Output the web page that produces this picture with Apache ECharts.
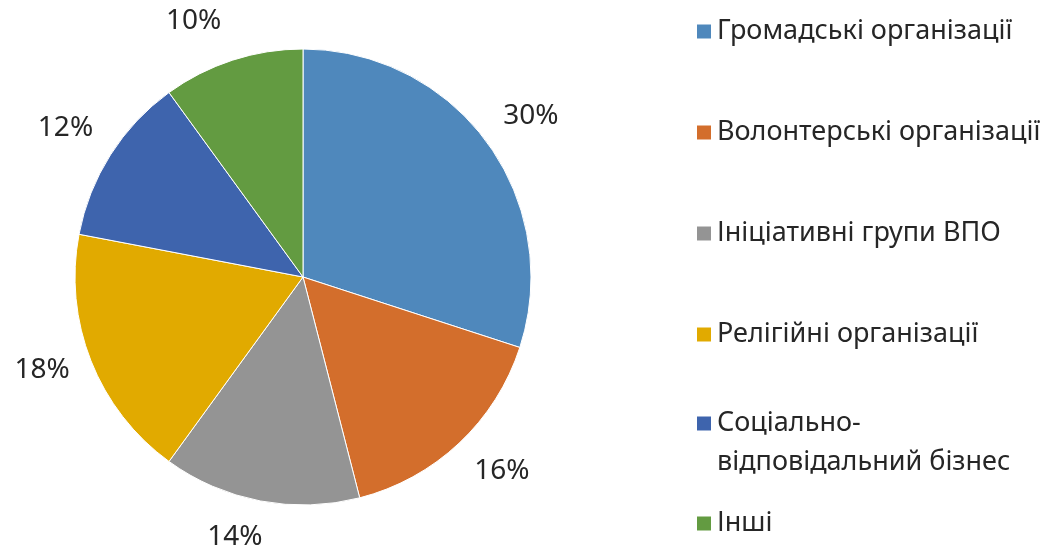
<!DOCTYPE html>
<html>
<head>
<meta charset="utf-8">
<script src="https://cdn.jsdelivr.net/npm/echarts@6/dist/echarts.min.js"></script>
<style>
  html, body { margin: 0; padding: 0; background: #fff; }
  #chart { width: 1054px; height: 548px; }
</style>
</head>
<body>
<div id="chart"></div>
<script>
const categories = [
  'Громадські організації',
  'Волонтерські організації',
  'Ініціативні групи ВПО',
  'Релігійні організації',
  'Соціально-відповідальний бізнес',
  'Інші'
]
const shares = [30, 16, 14, 18, 12, 10]
const colors = ['#4f88bc', '#d36e2c', '#949494', '#e1aa00', '#3e64ad', '#639b41']

const fontFamily = '"Noto Sans", sans-serif'
const textColor = '#262626'
const center = [303, 277]
// small best-fit style nudges for the percentage labels, like Excel does
const labelOffsets = [[7, -1], [12, -5], [-17, -8], [-7, -7], [-7, -3], [-25, 4]]

const pieData = categories.map((name, i) => ({ name: name, value: shares[i] }))

const chart = echarts.init(document.getElementById('chart'), null, { renderer: 'canvas' })

const legendBase = {
  orient: 'vertical',
  left: 690,
  icon: 'rect',
  itemWidth: 16,
  itemHeight: 16,
  itemGap: 74,
  selectedMode: false,
  textStyle: {
    fontFamily: fontFamily,
    fontSize: 27,
    color: textColor,
    lineHeight: 24
  }
}

chart.setOption({
  animation: false,
  color: colors,
  legend: [
    Object.assign({}, legendBase, {
      top: 13,
      data: categories.slice(0, 4)
    }),
    Object.assign({}, legendBase, {
      top: 360,
      data: [categories[4]],
      formatter: () => '\nСоціально-\nвідповідальний бізнес',
      textStyle: Object.assign({}, legendBase.textStyle, { lineHeight: 39 })
    }),
    Object.assign({}, legendBase, {
      top: 505,
      data: [categories[5]]
    })
  ],
  series: [
    {
      name: 'Частка',
      type: 'pie',
      center: center,
      radius: 228,
      startAngle: 90,
      clockwise: true,
      silent: true,
      label: { show: false },
      labelLine: { show: false },
      itemStyle: { borderColor: '#ffffff', borderWidth: 1 },
      data: pieData
    },
    {
      // transparent ring that only carries the percentage labels
      name: 'Підписи',
      type: 'pie',
      center: center,
      radius: [250, 290],
      startAngle: 90,
      clockwise: true,
      silent: true,
      legendHoverLink: false,
      itemStyle: { color: 'rgba(0,0,0,0)' },
      labelLine: { show: false },
      label: {
        show: true,
        position: 'inside',
        formatter: p => p.value + '%',
        fontFamily: fontFamily,
        fontSize: 28,
        color: textColor
      },
      labelLayout: p => ({ dx: labelOffsets[p.dataIndex][0], dy: labelOffsets[p.dataIndex][1] }),
      data: pieData
    }
  ]
})
</script>
</body>
</html>
